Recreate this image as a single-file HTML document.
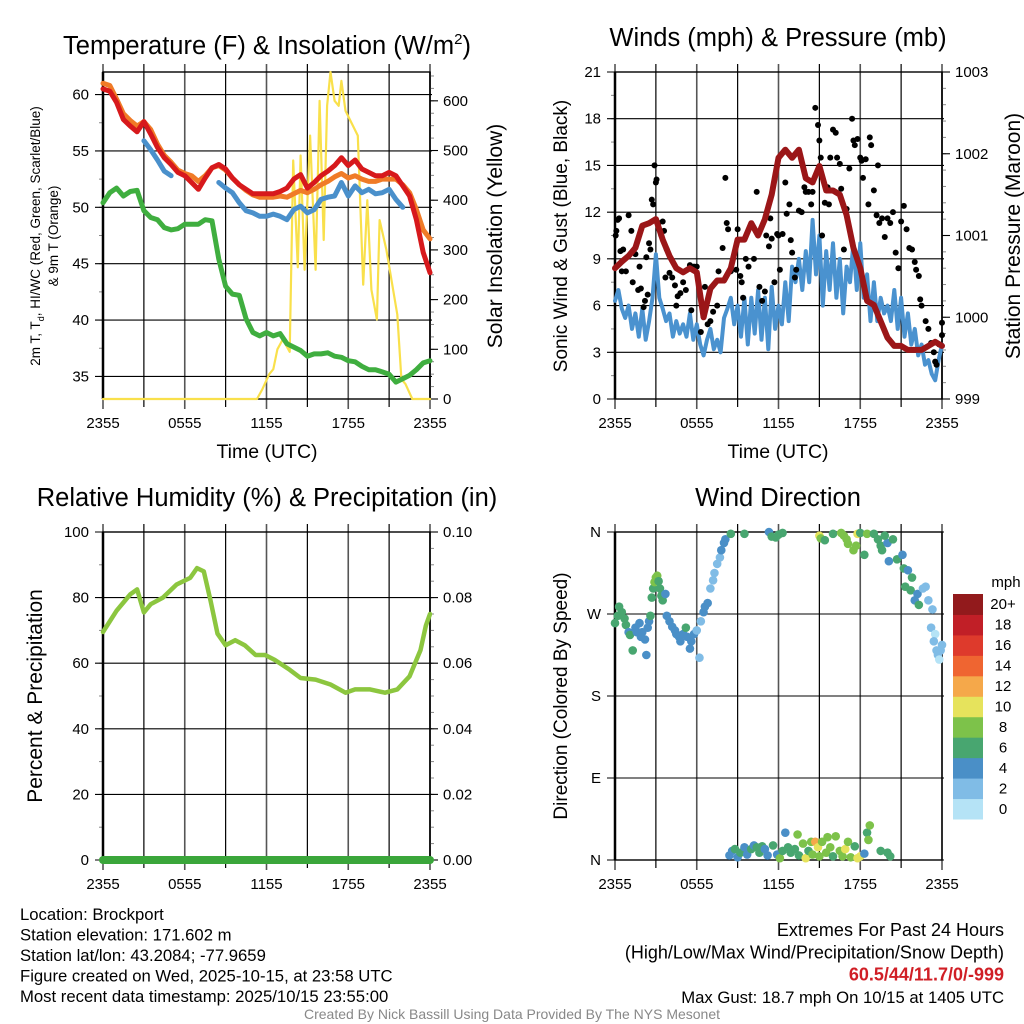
<!DOCTYPE html>
<html><head><meta charset="utf-8"><style>
html,body{margin:0;padding:0;background:#fff;}
svg{display:block;font-family:"Liberation Sans",sans-serif;}
</style></head><body>
<svg id="c" width="1024" height="1024" viewBox="0 0 1024 1024"></svg>
<script>
// ---------- DATA ----------
const hourLabels=["2355","0555","1155","1755","2355"];
const tempTicks=[35,40,45,50,55,60];
const solarTicks=[0,100,200,300,400,500,600];
const windTicks=[0,3,6,9,12,15,18,21];
const presTicks=[999,1000,1001,1002,1003];
const rhTicks=[0,20,40,60,80,100];
const precipTicks=["0.00","0.02","0.04","0.06","0.08","0.10"];
const dirTicks=["N","E","S","W","N"];
const speedBins=["0","2","4","6","8","10","12","14","16","18","20+"];
const speedColors=["#b5e3f6","#80bce6","#4a8fc7","#48a670","#7dc24a","#e6e35c","#f5a84a","#ef6531","#de3a2c","#c11f27","#921a1c"];

// half-hourly series (0..24h)
const tempRed=[60.5,60.3,59.3,57.8,57.2,56.7,57.6,56.5,55.3,54.4,53.8,53.1,52.8,52.2,51.6,52.6,53.5,53.8,53.4,52.6,52.0,51.6,51.2,51.2,51.2,51.2,51.4,51.7,52.5,52.9,51.7,52.2,52.8,53.2,53.7,54.4,53.7,54.2,53.4,53.1,52.8,52.8,53.1,52.8,51.9,51.0,48.9,46.0,44.2];
const tempOrange=[61.0,60.8,59.6,58.3,57.7,57.2,57.6,56.9,55.6,54.6,54.0,53.3,53.0,52.8,52.3,52.8,53.5,53.7,53.3,52.6,52.0,51.5,51.1,50.9,50.9,50.9,51.0,50.9,51.2,51.5,51.3,51.6,52.0,52.3,52.7,53.0,52.6,52.8,52.5,52.3,52.3,52.5,52.5,52.5,52.0,51.3,49.8,48.0,47.2];
const tempBlue=[null,null,null,null,null,null,55.9,55.1,54.2,53.2,52.8,null,51.6,null,null,null,null,52.2,51.7,51.3,50.4,49.7,49.5,49.2,49.2,49.4,49.2,48.9,49.8,50.1,49.5,49.8,50.7,50.9,51.0,52.2,51.0,51.9,51.3,51.6,51.2,51.3,51.6,50.7,50.0,null,null,null,null];
const dewGreen=[50.4,51.3,51.7,51.0,51.4,51.5,49.7,49.1,48.9,48.2,48.0,48.1,48.5,48.5,48.5,48.9,48.8,45.4,43.0,42.3,42.2,40.1,38.9,38.6,38.9,38.6,38.8,37.9,37.6,37.3,36.8,37.0,37.0,37.1,36.8,36.7,36.4,36.3,35.9,35.6,35.6,35.4,35.2,34.5,34.8,35.1,35.6,36.2,36.4];
const solarTimes=[0,11.3,11.7,12.2,12.5,12.8,13.2,13.7,13.96,14.3,14.5,14.8,15.2,15.6,15.9,16.2,16.45,16.7,17.0,17.3,17.5,17.8,18.7,19.1,19.4,19.7,20.1,20.3,20.8,21.6,21.9,22.2,22.7,24];
const solarVals=[0,0,20,50,60,100,120,95,480,265,490,260,530,260,600,320,590,658,600,590,640,580,530,230,400,220,160,360,300,170,40,30,0,0];
// quarter-hourly sonic wind (0..24h)
const windSonic=[6.3,7.0,5.8,5.2,6.0,4.5,5.5,4.0,5.8,3.8,5.0,6.5,9.3,6.5,5.8,5.0,5.5,4.0,5.0,4.2,4.8,4.0,5.5,3.8,4.8,3.5,2.8,3.8,4.5,3.2,3.8,3.0,5.2,5.8,6.5,4.8,6.0,4.0,6.5,3.5,6.5,4.2,7.0,3.8,6.5,3.2,7.2,4.5,6.0,4.8,7.5,5.0,8.5,7.5,9.0,7.0,9.5,7.5,11.5,8.0,10.5,6.0,9.5,7.0,10.0,6.5,9.0,5.5,8.5,7.5,10.0,7.0,10.0,6.5,8.0,5.0,7.5,5.0,6.5,5.5,6.0,5.0,7.0,4.5,6.5,4.0,5.5,3.5,4.5,2.8,3.5,2.2,2.5,1.6,1.2,2.5,3.5];
const pressure=[1000.6,1000.68,1000.75,1000.85,1001.12,1001.15,1001.2,1000.95,1000.75,1000.6,1000.55,1000.6,1000.55,1000.0,1000.35,1000.45,1000.45,1000.6,1000.95,1000.95,1001.15,1001.0,1001.2,1001.5,1001.95,1002.05,1001.95,1002.05,1001.7,1001.65,1001.85,1001.55,1001.55,1001.5,1001.25,1000.85,1000.6,1000.2,1000.15,999.95,999.75,999.65,999.65,999.6,999.6,999.6,999.65,999.7,999.65];
const gustTimes=[0.05,0.1,0.2,0.3,0.4,0.5,0.6,0.8,1.0,1.2,1.3,1.5,1.7,1.8,1.9,2.1,2.2,2.3,2.4,2.5,2.6,2.7,2.8,2.9,3.0,3.05,3.2,3.4,3.5,3.6,3.7,3.8,4.0,4.2,4.4,4.5,4.6,4.8,5.0,5.2,5.5,5.6,5.8,6.0,6.3,6.5,6.6,6.8,7.0,7.2,7.5,7.6,7.9,8.1,8.2,8.3,8.5,8.7,8.9,9.0,9.2,9.3,9.4,9.6,9.8,10.0,10.2,10.4,10.6,10.8,11.0,11.1,11.3,11.4,11.5,11.7,11.9,12.0,12.1,12.3,12.5,12.6,12.8,12.9,13.0,13.2,13.3,13.5,13.7,13.9,14.0,14.2,14.4,14.5,14.7,14.9,15.0,15.1,15.2,15.4,15.6,15.7,15.8,16.0,16.2,16.3,16.5,16.6,16.8,17.0,17.2,17.4,17.5,17.6,17.8,18.0,18.1,18.2,18.4,18.6,18.7,18.8,19.0,19.2,19.3,19.4,19.6,19.8,20.0,20.2,20.4,20.6,20.8,21.0,21.2,21.4,21.6,21.8,22.0,22.1,22.3,22.4,22.5,22.8,23.0,23.2,23.4,23.5,23.6,23.8,24.0,24.0];
const gustVals=[10.5,10.8,11.5,11.6,9.5,8.2,9.6,8.2,11.8,10.8,7.5,9.3,7.0,8.5,7.1,5.9,6.3,9.1,6.7,10.0,9.6,12.8,12.5,15.0,13.9,14.1,11.3,10.5,11.4,10.8,7.8,9.6,8.1,7.8,7.3,6.0,6.6,6.8,7.5,7.0,8.6,5.7,8.5,8.5,4.3,5.3,7.2,4.8,5.0,5.6,6.0,8.2,9.7,14.2,11.3,10.9,8.2,9.1,8.3,10.9,7.9,7.5,6.5,9.0,8.5,11.2,9.0,13.3,7.2,6.3,6.9,10.5,9.8,11.6,10.3,7.5,10.6,10.5,8.3,10.6,13.9,11.9,12.5,10.2,9.4,7.8,8.3,12.1,12.0,13.6,13.3,13.3,12.5,13.3,18.7,17.6,16.6,15.5,10.5,12.6,13.6,12.5,15.5,17.3,17.1,15.5,15.1,13.5,9.6,12.2,14.8,18.0,16.6,16.3,16.7,15.5,15.3,14.2,15.4,12.5,16.8,16.3,13.4,11.8,15.0,11.3,11.6,10.4,11.6,11.3,12.0,9.4,8.4,11.4,12.4,10.9,9.7,9.6,8.8,8.3,7.9,6.4,6.0,5.0,4.5,3.6,3.0,2.4,2.2,3.5,4.9,4.1];
const rhTimes=[0,1,2,2.5,3,3.5,4.4,5.4,6.4,6.9,7.4,7.9,8.4,9,9.7,10.4,11.2,11.9,12.6,13.7,14.5,15.6,16.7,17.8,18.5,19.6,20.7,21.6,22.5,23.3,23.7,24];
const rhVals=[69.5,76,81,82.5,75.5,78,80,84,86,89,88,79,69,65.5,67,65.5,62.5,62.5,61,58,55.5,55,53.5,51,52,52,51,52,56,64,71.5,75];
const precipTimes=[0,24];
const precipVals=[0,0];
const dirTimes=[0.0,0.2,0.3,0.5,0.7,0.8,1.0,1.1,1.3,1.5,1.6,1.8,1.9,2.0,2.2,2.3,2.4,2.5,2.6,2.7,2.8,2.9,3.0,3.1,3.2,3.3,3.4,3.5,3.7,3.8,4.0,4.2,4.4,4.5,4.7,4.8,5.0,5.2,5.3,5.5,5.6,5.8,6.0,6.2,6.3,6.5,6.6,6.8,7.0,7.2,7.3,7.5,7.7,7.8,8.0,8.1,8.5,9.5,11.3,11.5,11.8,12.0,12.3,15.0,15.1,15.4,16.0,16.6,16.8,17.0,17.1,17.5,17.7,17.8,18.0,18.3,18.5,19.0,19.3,19.5,19.6,20.0,19.8,20.4,20.1,20.7,21.1,21.2,21.3,21.5,21.8,21.7,22.0,22.2,22.3,22.6,22.8,23.0,23.3,23.2,23.5,23.4,23.6,23.9,23.7,23.8,24.0,8.4,8.6,8.8,9.0,9.2,9.5,9.7,10.0,10.2,10.4,10.6,10.8,11.0,11.2,11.6,11.9,12.1,12.3,12.5,12.7,12.9,13.2,13.4,13.5,13.8,14.0,14.2,14.4,14.5,14.7,14.9,15.0,15.2,15.5,15.6,15.8,16.0,16.2,16.5,16.7,16.9,17.1,17.3,17.6,17.8,18.0,18.3,18.5,18.7,18.6,19.5,20.0,20.2];
const dirVals=[260,268,278,272,265,258,250,247,230,255,250,260,245,250,242,225,255,262,268,288,298,305,310,312,306,298,290,285,292,268,262,256,252,248,245,240,248,255,245,232,240,248,252,222,262,272,278,282,298,307,315,325,332,340,348,352,358,358,360,355,354,357,359,356,353,351,358,359,356,352,347,340,345,358,359,335,358,358,352,345,340,348,356,352,328,330,335,320,300,318,310,296,285,292,280,298,300,285,275,255,248,240,230,230,225,220,236,5,10,12,3,8,14,6,12,16,14,8,15,12,5,16,6,2,10,30,14,8,12,28,5,18,2,10,20,6,20,14,4,20,8,25,14,4,26,10,4,12,20,3,15,2,4,7,30,38,22,10,8,4];
const dirSpeeds=[6,6,6,6,6,6,4,6,6,4,4,4,4,4,4,4,4,4,6,6,6,8,8,8,6,6,6,6,4,4,4,4,4,4,4,4,4,6,4,4,4,4,2,2,2,4,4,4,2,2,2,2,2,4,4,4,6,6,4,6,6,6,6,10,8,6,6,8,8,8,8,8,8,10,6,6,8,6,6,6,6,4,6,6,4,6,4,6,6,4,6,6,4,4,6,2,2,2,2,2,0,2,2,2,2,0,2,4,4,6,4,6,4,4,6,4,6,6,6,4,4,6,4,8,6,4,6,6,6,8,6,8,10,6,8,8,12,10,8,8,8,8,8,6,8,8,8,10,8,8,6,10,10,4,6,8,8,6,6,6];

// ---------- DRAWING ----------
const NS="http://www.w3.org/2000/svg";
const svg=document.getElementById('c');
function el(tag,attrs,parent,text){const e=document.createElementNS(NS,tag);for(const k in attrs)e.setAttribute(k,attrs[k]);if(text!==undefined)e.textContent=text;(parent||svg).appendChild(e);return e;}
const P1={x0:103,x1:430,y0:72,y1:399},P2={x0:615,x1:942,y0:72,y1:399},P3={x0:103,x1:430,y0:532,y1:860},P4={x0:615,x1:942,y0:532,y1:860};
function xs(p,t){return p.x0+t/24*(p.x1-p.x0);}
function ys(p,v,lo,hi){return p.y1-(v-lo)/(hi-lo)*(p.y1-p.y0);}
const halfHours=tempRed.map((_,i)=>i*0.5);
const quarterHours=windSonic.map((_,i)=>i*0.25);

function frame(p,name){
  const g=el('g',{},svg);
  
  
  for(let h=0;h<=24;h+=3){const x=xs(p,h);
    el('line',{x1:x,x2:x,y1:p.y0-8,y2:p.y1+(h%6==0?10:8),stroke:(h%6==0?'#555':'#000'),'stroke-width':(h%6==0?1.6:1.2)},g);
  }
  for(let i=0;i<hourLabels.length;i++){
    const t=el('text',{x:xs(p,i*6),y:p.y1+29,'font-size':15,'text-anchor':'middle'},g,hourLabels[i]);
    
    
  }
  return g;
}
function hgrid(g,p,vals,lo,hi,labels,side){
  vals.forEach((v,i)=>{const y=ys(p,v,lo,hi);
    el('line',{x1:p.x0-8,x2:p.x1+(side?8:2),y1:y,y2:y,stroke:'#000','stroke-width':1.1},g);
    if(labels){const t=el('text',{x:p.x0-14,y:y+5,'font-size':15,'text-anchor':'end'},g,labels[i]);
      
      }
  });
}
function rightAxis(g,p,vals,lo,hi,labels,minorStep){
  el('line',{x1:p.x1,x2:p.x1,y1:p.y0,y2:p.y1,stroke:'#000','stroke-width':1.4},g);
  for(let v=lo;v<=hi+1e-9;v+=minorStep){const y=ys(p,v,lo,hi);el('line',{x1:p.x1,x2:p.x1+4,y1:y,y2:y,stroke:'#888','stroke-width':1},g);}
  vals.forEach((v,i)=>{const y=ys(p,v,lo,hi);
    el('line',{x1:p.x1,x2:p.x1+8,y1:y,y2:y,stroke:'#000','stroke-width':1.1},g);
    const t=el('text',{x:p.x1+13,y:y+5,'font-size':15},g,labels[i]);
    
    
  });
}
function border(g,p){el('rect',{x:p.x0,y:p.y0,width:p.x1-p.x0,height:p.y1-p.y0,fill:'none',stroke:'#000','stroke-width':1.4},g);
  el('line',{x1:p.x0,x2:p.x0,y1:p.y0,y2:p.y1,stroke:'#000','stroke-width':2.5},g);}
function pathOf(p,ts,vs,lo,hi){let d='',pen=false;
  for(let i=0;i<vs.length;i++){if(vs[i]===null){pen=false;continue;}
    d+=(pen?'L':'M')+xs(p,ts[i]).toFixed(1)+','+ys(p,vs[i],lo,hi).toFixed(1);pen=true;}
  return d;}
function series(g,p,ts,vs,lo,hi,color,w,name){
  const e=el('path',{d:pathOf(p,ts,vs,lo,hi),fill:'none',stroke:color,'stroke-width':w,'stroke-linejoin':'round','stroke-linecap':'round'},g);
  
  
}
function title(x,y,txt,name,size){const t=el('text',{x:x,y:y,'font-size':size||25.5,'text-anchor':'middle'},svg,txt);
  
  return t;}
function vlabel(x,y,txt,name,size){const t=el('text',{x:x,y:y,'font-size':size,'text-anchor':'middle',transform:`rotate(-90 ${x} ${y})`},svg,txt);
  
  return t;}

// Panel 1
{const p=P1,lo=33,hi=62,slo=0,shi=658;const g=frame(p,'temperature');
 
 for(let v=35;v<=62;v+=2.5){const y=ys(p,v,lo,hi);el('line',{x1:p.x0-4,x2:p.x0,y1:y,y2:y,stroke:'#888'},g);}
 hgrid(g,p,tempTicks,lo,hi,tempTicks.map(String));
 rightAxis(g,p,solarTicks,slo,shi,solarTicks.map(String),25);
 border(g,p);
 series(g,p,solarTimes,solarVals,slo,shi,'#f9e04b',2.2,'solar-insolation-line');
 series(g,p,halfHours,tempOrange,lo,hi,'#f07b27',5,'9m-temp-line');
 series(g,p,halfHours,tempRed,lo,hi,'#d7191c',5,'2m-temp-line');
 series(g,p,halfHours,tempBlue,lo,hi,'#4a90cb',5,'wind-chill-line');
 series(g,p,halfHours,dewGreen,lo,hi,'#3fae3f',5,'dewpoint-line');
 const t=title(267,54,'','temperature-title');t.innerHTML='Temperature (F) &amp; Insolation (W/m<tspan dy="-10" font-size="15">2</tspan><tspan dy="10">)</tspan>';
 title(267,458,'Time (UTC)','temperature-x-axis-title',19.5);
 const l=vlabel(40,236,'','temperature-y-axis-title',13.5);l.innerHTML='2m T, T<tspan dy="4" font-size="9">d</tspan><tspan dy="-4">, HI/WC (Red, Green, Scarlet/Blue)</tspan>';
 vlabel(58,236,'& 9m T (Orange)','temperature-y-axis-title-2',13.5);
 vlabel(502,236,'Solar Insolation (Yellow)','solar-y-axis-title',21);
}
// Panel 2
{const p=P2,lo=0,hi=21,plo=999,phi=1003;const g=frame(p,'winds');
 
 for(let v=0;v<=21;v+=1.5){const y=ys(p,v,lo,hi);el('line',{x1:p.x0-4,x2:p.x0,y1:y,y2:y,stroke:'#888'},g);}
 hgrid(g,p,windTicks,lo,hi,windTicks.map(String));
 rightAxis(g,p,presTicks,plo,phi,presTicks.map(String),0.2);
 border(g,p);
 series(g,p,quarterHours,windSonic,lo,hi,'#4a92cf',4,'sonic-wind-line');
 gustTimes.forEach((t,i)=>{const c=el('circle',{cx:xs(p,t),cy:ys(p,gustVals[i],lo,hi),r:3,fill:'#000'},g);
   
   });
 series(g,p,halfHours,pressure,plo,phi,'#9b1618',6,'pressure-line');
 title(778,46,'Winds (mph) & Pressure (mb)','winds-title');
 title(778,458,'Time (UTC)','winds-x-axis-title',19.5);
 vlabel(567,236,'Sonic Wind & Gust (Blue, Black)','wind-y-axis-title',19);
 vlabel(1020,236,'Station Pressure (Maroon)','pressure-y-axis-title',21);
}
// Panel 3
{const p=P3,lo=0,hi=100;const g=frame(p,'humidity');
 
 for(let v=0;v<=100;v+=10){const y=ys(p,v,lo,hi);el('line',{x1:p.x0-4,x2:p.x0,y1:y,y2:y,stroke:'#888'},g);}
 hgrid(g,p,rhTicks,lo,hi,rhTicks.map(String));
 rightAxis(g,p,rhTicks,lo,hi,precipTicks,5);
 border(g,p);
 series(g,p,rhTimes,rhVals,lo,hi,'#8cc63f',4.5,'relative-humidity-line');
 series(g,p,precipTimes,precipVals.map(v=>v*1000),lo,hi,'#3aa63a',8,'precipitation-line');
 title(267,506,'Relative Humidity (%) & Precipitation (in)','humidity-title');
 vlabel(42,696,'Percent & Precipitation','humidity-y-axis-title',21);
}
// Panel 4
{const p=P4;const g=frame(p,'direction');
 
 const dv=[0,90,180,270,360];
 hgrid(g,p,dv,0,360,dirTicks);
 border(g,p);
 dirTimes.forEach((t,i)=>{const c=el('circle',{cx:xs(p,t),cy:ys(p,dirVals[i],0,360),r:4.3,fill:speedColors[Math.min(10,Math.floor(dirSpeeds[i]/2))]},g);
   
   });
 title(778,506,'Wind Direction','direction-title');
 vlabel(567,696,'Direction (Colored By Speed)','direction-y-axis-title',19);
 const cb=el('g',{},svg);
 
 
 const top=594,bot=819,h=(bot-top)/speedBins.length;
 speedBins.forEach((b,i)=>{const y=bot-(i+1)*h;
   const r=el('rect',{x:953,y:y,width:30,height:h+0.5,fill:speedColors[i]},cb);
   
   
   el('text',{x:1003,y:y+h/2+5,'font-size':15,'text-anchor':'middle'},cb,b);});
 el('text',{x:1006,y:587,'font-size':15,'text-anchor':'middle'},cb,'mph');
}
// Footer text
const info=["Location: Brockport","Station elevation: 171.602 m","Station lat/lon: 43.2084; -77.9659","Figure created on Wed, 2025-10-15, at 23:58 UTC","Most recent data timestamp: 2025/10/15 23:55:00"];
info.forEach((s,i)=>{const t=el('text',{x:20,y:920+i*20.5,'font-size':16.7},svg,s);
  
  });
const ext=[["Extremes For Past 24 Hours","#000",""],["(High/Low/Max Wind/Precipitation/Snow Depth)","#000",""],["60.5/44/11.7/0/-999","#d01f26","bold"],["Max Gust: 18.7 mph On 10/15 at 1405 UTC","#000",""]];
ext.forEach((s,i)=>{const t=el('text',{x:1004,y:936+i*22.3,'font-size':i==2?18:(i==3?16.7:18),'text-anchor':'end',fill:s[1],'font-weight':s[2]||'normal'},svg,s[0]);
  
  });
const cr=el('text',{x:512,y:1019,'font-size':14,'text-anchor':'middle',fill:'#888'},svg,'Created By Nick Bassill Using Data Provided By The NYS Mesonet');


</script>
</body></html>
